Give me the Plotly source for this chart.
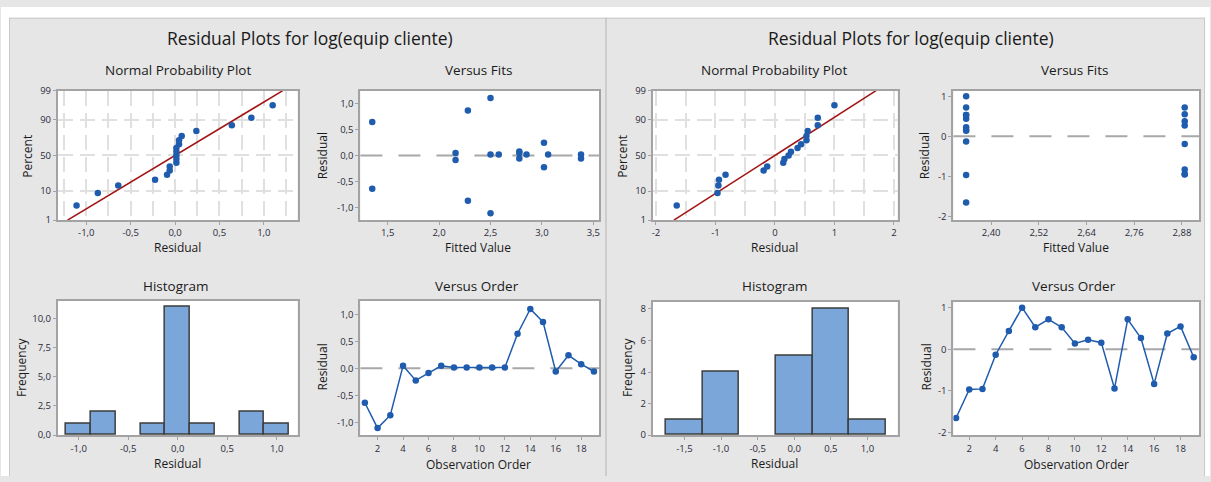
import plotly.graph_objects as go
from statistics import NormalDist
import numpy as np

W, H = 1211, 482

# ---------------- data ----------------
obs_order = list(range(1, 20))

left_residuals = [-0.64, -1.11, -0.87, 0.045, -0.225, -0.09, 0.045, 0.015, 0.015,
                  0.015, 0.015, 0.015, 0.64, 1.10, 0.86, -0.06, 0.24, 0.075, -0.06]
left_fitted = [1.35, 2.50, 2.28, 2.16, 3.02, 2.16, 2.78, 2.50, 2.58, 2.85,
               3.06, 3.38, 1.35, 2.50, 2.28, 3.38, 3.02, 2.78, 2.78]

right_residuals = [-1.65, -0.965, -0.95, -0.13, 0.44, 1.00, 0.53, 0.72, 0.53, 0.14,
                   0.23, 0.16, -0.94, 0.72, 0.27, -0.83, 0.38, 0.55, -0.19]
right_fitted = [2.337, 2.337, 2.887, 2.337, 2.337, 2.337, 2.337, 2.337, 2.337, 2.337,
                2.337, 2.337, 2.887, 2.887, 2.887, 2.887, 2.887, 2.887, 2.887]

main_title = "Residual Plots for log(equip cliente)"
sub_titles = ["Normal Probability Plot", "Versus Fits", "Histogram", "Versus Order"]
npp_pct_ticks = [1, 10, 50, 90, 99]
npp_pct_labels = ["1", "10", "50", "90", "99"]

left_npp_xticks = [-1.0, -0.5, 0.0, 0.5, 1.0]
left_vf_xticks = [1.5, 2.0, 2.5, 3.0, 3.5]
left_res_ticks = [-1.0, -0.5, 0.0, 0.5, 1.0]
left_hist_yticks = [0.0, 2.5, 5.0, 7.5, 10.0]
order_ticks = [2, 4, 6, 8, 10, 12, 14, 16, 18]

right_npp_xticks = [-2, -1, 0, 1, 2]
right_vf_xticks = [2.40, 2.52, 2.64, 2.76, 2.88]
right_res_ticks = [-2, -1, 0, 1]
right_hist_xticks = [-1.5, -1.0, -0.5, 0.0, 0.5, 1.0]
right_hist_yticks = [0, 2, 4, 6, 8]

# ---------------- styles ----------------
BLUE = "#1f5cae"
RED = "#a31515"
BAR = "#7ba6da"
BORDER = "#a3a3a3"
TXT = "#1a1a1a"
GRID = "#e0e0e0"
FONT = "Open Sans"
MS = 6.5

nd = NormalDist()
zlo, zhi = nd.inv_cdf(0.01), nd.inv_cdf(0.99)


def npp_data(res):
    r = np.sort(np.array(res, dtype=float))
    n = len(r)
    p = (np.arange(1, n + 1) - 0.3) / (n + 0.4)
    z = [nd.inv_cdf(v) for v in p]
    mu, sd = r.mean(), r.std(ddof=1)
    return r, z, [mu + sd * zlo, mu + sd * zhi]


def labels(vals, fmt):
    return [format(v, fmt).replace(".", ",") for v in vals]


def xd(a, b):
    return [a / W, b / W]


def yd(top, bottom):
    return [1 - bottom / H, 1 - top / H]


def axis(dom, rng, vals, text, **kw):
    d = dict(domain=dom, range=rng, tickvals=vals, ticktext=text, showline=True, mirror=True,
             linecolor=BORDER, linewidth=2, ticks="outside", ticklen=3, tickcolor=BORDER,
             tickwidth=1, showgrid=False, zeroline=False, fixedrange=True,
             tickfont=dict(family=FONT, size=9.5, color="#2a2a3a"))
    d.update(kw)
    return d


fig = go.Figure()

panels = [
    dict(res=left_residuals, fit=left_fitted, ids=[1, 2, 3, 4]),
    dict(res=right_residuals, fit=right_fitted, ids=[5, 6, 7, 8]),
]


def ax_names(i):
    return ("x" if i == 1 else f"x{i}"), ("y" if i == 1 else f"y{i}")


shapes = []
for pi, P in enumerate(panels):
    i_npp, i_vf, i_h, i_vo = P["ids"]
    # NPP
    r, z, lx = npp_data(P["res"])
    xa, ya = ax_names(i_npp)
    fig.add_trace(go.Scatter(x=[float(v) for v in lx], y=[zlo, zhi], mode="lines",
                             line=dict(color=RED, width=1.6), xaxis=xa, yaxis=ya))
    fig.add_trace(go.Scatter(x=r, y=z, mode="markers",
                             marker=dict(color=BLUE, size=MS), xaxis=xa, yaxis=ya))
    # Versus fits
    xa, ya = ax_names(i_vf)
    fig.add_trace(go.Scatter(x=P["fit"], y=P["res"], mode="markers",
                             marker=dict(color=BLUE, size=MS), xaxis=xa, yaxis=ya))
    shapes.append(dict(type="line", xref=f"{xa} domain", yref=ya, x0=0, x1=1, y0=0, y1=0,
                       line=dict(color="#a8a8a8", width=2, dash="22px,16px"), layer="below"))
    # Histogram
    xa, ya = ax_names(i_h)
    if pi == 0:
        bins = dict(start=-1.125, end=1.125, size=0.25)
    else:
        bins = dict(start=-1.75, end=1.25, size=0.5)
    fig.add_trace(go.Histogram(x=P["res"], xbins=bins, autobinx=False,
                               marker=dict(color=BAR, line=dict(color="#3d3d3d", width=1.5)),
                               xaxis=xa, yaxis=ya))
    # Versus order
    xa, ya = ax_names(i_vo)
    fig.add_trace(go.Scatter(x=obs_order, y=P["res"], mode="lines+markers",
                             line=dict(color=BLUE, width=1.5),
                             marker=dict(color=BLUE, size=MS), xaxis=xa, yaxis=ya))
    shapes.append(dict(type="line", xref=f"{xa} domain", yref=ya, x0=0, x1=1, y0=0, y1=0,
                       line=dict(color="#a8a8a8", width=2, dash="22px,16px"), layer="below"))

grid = dict(showgrid=True, gridcolor=GRID, gridwidth=2, griddash="15px,7px")


def minor(step):
    return dict(dtick=step, tick0=0, showgrid=True, gridcolor=GRID, gridwidth=2,
                griddash="15px,7px")


npp_yvals = [nd.inv_cdf(p / 100) for p in npp_pct_ticks]

layout_axes = {}
# left panel
layout_axes["xaxis"] = axis(xd(57, 297), [-1.32, 1.38], left_npp_xticks,
                            labels(left_npp_xticks, ".1f"), anchor="y", minor=minor(0.25), **grid)
layout_axes["yaxis"] = axis(yd(86, 219), [zlo, zhi], npp_yvals, npp_pct_labels, anchor="x",
                            **grid)
layout_axes["xaxis2"] = axis(xd(360, 599), [1.235, 3.555], left_vf_xticks,
                             labels(left_vf_xticks, ".1f"), anchor="y2")
layout_axes["yaxis2"] = axis(yd(86, 219), [-1.24, 1.24], left_res_ticks,
                             labels(left_res_ticks, ".1f"), anchor="x2")
layout_axes["xaxis3"] = axis(xd(57, 297), [-1.21, 1.21], left_npp_xticks,
                             labels(left_npp_xticks, ".1f"), anchor="y3")
layout_axes["yaxis3"] = axis(yd(302, 440), [0, 11.5], left_hist_yticks,
                             labels(left_hist_yticks, ".1f"), anchor="x3")
layout_axes["xaxis4"] = axis(xd(360, 599), [0.65, 19.4], order_ticks,
                             labels(order_ticks, "d"), anchor="y4")
layout_axes["yaxis4"] = axis(yd(302, 440), [-1.24, 1.25], left_res_ticks,
                             labels(left_res_ticks, ".1f"), anchor="x4")
# right panel
layout_axes["xaxis5"] = axis(xd(653, 898), [-2.05, 2.06], right_npp_xticks,
                             labels(right_npp_xticks, "d"), anchor="y5", minor=minor(0.5), **grid)
layout_axes["yaxis5"] = axis(yd(86, 219), [zlo, zhi], npp_yvals, npp_pct_labels, anchor="x5",
                             **grid)
layout_axes["xaxis6"] = axis(xd(954, 1200), [2.305, 2.923], right_vf_xticks,
                             labels(right_vf_xticks, ".2f"), anchor="y6")
layout_axes["yaxis6"] = axis(yd(86, 219), [-2.09, 1.14], right_res_ticks,
                             labels(right_res_ticks, "d"), anchor="x6")
layout_axes["xaxis7"] = axis(xd(653, 898), [-1.93, 1.41], right_hist_xticks,
                             labels(right_hist_xticks, ".1f"), anchor="y7")
layout_axes["yaxis7"] = axis(yd(303, 440), [0, 8.45], right_hist_yticks,
                             labels(right_hist_yticks, "d"), anchor="x7")
layout_axes["xaxis8"] = axis(xd(954, 1200), [0.8, 19.4], order_ticks,
                             labels(order_ticks, "d"), anchor="y8")
layout_axes["yaxis8"] = axis(yd(303, 440), [-2.06, 1.14], right_res_ticks,
                             labels(right_res_ticks, "d"), anchor="x8")

# ---------------- frame: white margins + panel borders ----------------
shapes += [
    dict(type="rect", xref="paper", yref="paper", x0=0, x1=1, y0=1 - 11 / H, y1=1,
         fillcolor="white", line=dict(width=0), layer="below"),
    dict(type="rect", xref="paper", yref="paper", x0=0, x1=8 / W, y0=0, y1=1,
         fillcolor="white", line=dict(width=0), layer="below"),
    dict(type="rect", xref="paper", yref="paper", x0=1206 / W, x1=1, y0=0, y1=1,
         fillcolor="white", line=dict(width=0), layer="below"),
    dict(type="line", xref="paper", yref="paper", x0=8.5 / W, x1=8.5 / W, y0=0, y1=1 - 11 / H,
         line=dict(color="#c9c9c9", width=1), layer="below"),
    dict(type="line", xref="paper", yref="paper", x0=8 / W, x1=1206 / W, y0=1 - 11.5 / H,
         y1=1 - 11.5 / H, line=dict(color="#c9c9c9", width=1), layer="below"),
    dict(type="line", xref="paper", yref="paper", x0=606 / W, x1=606 / W, y0=0, y1=1 - 11 / H,
         line=dict(color="#c4c4c4", width=1.5), layer="below"),
    dict(type="line", xref="paper", yref="paper", x0=1205.5 / W, x1=1205.5 / W, y0=0,
         y1=1 - 11 / H, line=dict(color="#c9c9c9", width=1), layer="below"),
]

# ---------------- text ----------------
annotations = []


def ann(text, x, y, size, angle=0):
    annotations.append(dict(text=text, xref="paper", yref="paper", x=x / W, y=1 - y / H,
                            xanchor="center", yanchor="middle", showarrow=False,
                            textangle=angle, font=dict(family=FONT, size=size, color=TXT)))


for cx in (310, 912):
    ann(main_title, cx, 32, 17.5)

ST = 13.5
ann(sub_titles[0], 177, 65, ST)
ann(sub_titles[1], 478, 65, ST)
ann(sub_titles[2], 175, 287, ST)
ann(sub_titles[3], 477, 287, ST)
ann(sub_titles[0], 774, 65, ST)
ann(sub_titles[1], 1075, 65, ST)
ann(sub_titles[2], 775, 287, ST)
ann(sub_titles[3], 1075, 287, ST)

AT = 12
# axis titles - left
ann("Percent", 27, 153, AT, -90)
ann("Residual", 177, 247, AT)
ann("Residual", 322, 153, AT, -90)
ann("Fitted Value", 478, 247, AT)
ann("Frequency", 20, 370, AT, -90)
ann("Residual", 177, 469, AT)
ann("Residual", 322, 370, AT, -90)
ann("Observation Order", 478, 470, AT)
# axis titles - right
ann("Percent", 623, 153, AT, -90)
ann("Residual", 775, 247, AT)
ann("Residual", 925, 153, AT, -90)
ann("Fitted Value", 1077, 247, AT)
ann("Frequency", 627, 370, AT, -90)
ann("Residual", 775, 469, AT)
ann("Residual", 927, 370, AT, -90)
ann("Observation Order", 1077, 470, AT)

fig.update_layout(
    width=W, height=H, margin=dict(l=0, r=0, t=0, b=0),
    paper_bgcolor="#e6e6e6", plot_bgcolor="white", showlegend=False,
    separators=",.", font=dict(family=FONT, color=TXT), bargap=0,
    shapes=shapes, annotations=annotations, **layout_axes,
)

fig.write_html("out.html", config={"displayModeBar": False})
